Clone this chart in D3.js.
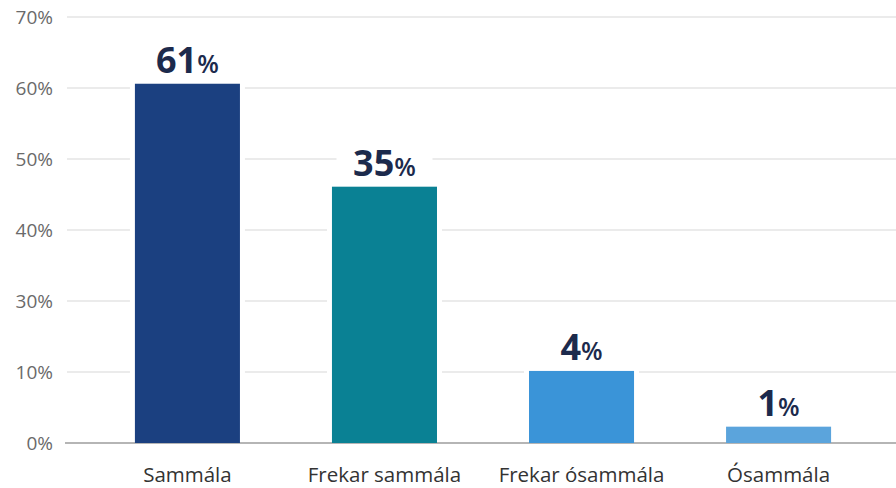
<!DOCTYPE html>
<html>
<head>
<meta charset="utf-8">
<script src="https://cdn.jsdelivr.net/npm/d3@7"></script>
<style>
  body { margin: 0; background: #fff; }
  svg { display: block; font-family: "Open Sans", sans-serif; }
</style>
</head>
<body>
<svg id="chart" width="896" height="488"></svg>
<script>
// chart data
const categories = ["Sammála", "Frekar sammála", "Frekar ósammála", "Ósammála"];
const barHeights = [60.6, 46.1, 10.3, 2.3]; // bar tops as drawn against the axis
const valueLabels = [61, 35, 4, 1];
const barColors = ["#1b4080", "#0a8194", "#3a94d8", "#5ba4dc"];
const yTicks = [0, 10, 30, 40, 50, 60, 70];

const svg = d3.select("#chart");

// tick labels sit on evenly spaced gridlines
let tickPos = d3.scaleLinear().domain([0, yTicks.length - 1]).range([443, 17]);
let y = d3.scaleLinear().domain(yTicks).range(yTicks.map((d, i) => tickPos(i)));

let x = d3
  .scaleBand()
  .domain(categories)
  .range([89, 877])
  .paddingInner(0.467)
  .paddingOuter(0.233);

// gridlines
svg
  .append("g")
  .selectAll("line")
  .data(yTicks.slice(1))
  .join("line")
  .attr("x1", 67)
  .attr("x2", 896)
  .attr("y1", (d) => y(d))
  .attr("y2", (d) => y(d))
  .attr("stroke", "#e4e4e4")
  .attr("stroke-width", 1.5);

// tick labels
svg
  .append("g")
  .selectAll("text")
  .data(yTicks)
  .join("text")
  .attr("x", 53)
  .attr("y", (d) => y(d))
  .attr("dy", "0.35em")
  .attr("text-anchor", "end")
  .attr("fill", "#6a6a6a")
  .style("font-size", "19px")
  .text((d) => d + "%");

// white gap round the bars
svg
  .append("g")
  .selectAll("rect")
  .data(barHeights)
  .join("rect")
  .attr("x", (d, i) => x(categories[i]) - 5)
  .attr("y", (d) => y(d) - 5)
  .attr("width", x.bandwidth() + 10)
  .attr("height", (d) => y(0) - y(d) + 4)
  .attr("fill", "#fff");

// axis line
svg
  .append("line")
  .attr("x1", 65)
  .attr("x2", 896)
  .attr("y1", y(0))
  .attr("y2", y(0))
  .attr("stroke", "#9c9c9c")
  .attr("stroke-width", 1.5);

// bars
svg
  .append("g")
  .selectAll("rect")
  .data(barHeights)
  .join("rect")
  .attr("x", (d, i) => x(categories[i]))
  .attr("y", (d) => y(d))
  .attr("width", x.bandwidth())
  .attr("height", (d) => y(0) - y(d))
  .attr("fill", (d, i) => barColors[i]);

// value labels with white background
let labels = svg
  .append("g")
  .selectAll("g")
  .data(barHeights)
  .join("g")
  .attr("transform", (d, i) => `translate(${x(categories[i]) + x.bandwidth() / 2},${y(d) - 11})`);

labels
  .append("rect")
  .attr("x", -48)
  .attr("y", -32)
  .attr("width", 96)
  .attr("height", 36)
  .attr("fill", "#fff");

let t = labels
  .append("text")
  .attr("text-anchor", "middle")
  .attr("fill", "#1c2a4c")
  .style("font-weight", "700");
t.append("tspan")
  .style("font-size", "36px")
  .text((d, i) => valueLabels[i]);
t.append("tspan")
  .style("font-size", "25px")
  .style("font-weight", "600")
  .text("%");

// category labels
svg
  .append("g")
  .selectAll("text")
  .data(categories)
  .join("text")
  .attr("x", (d) => x(d) + x.bandwidth() / 2)
  .attr("y", 482)
  .attr("text-anchor", "middle")
  .attr("fill", "#333")
  .style("font-size", "20.5px")
  .text((d) => d);
</script>
</body>
</html>
